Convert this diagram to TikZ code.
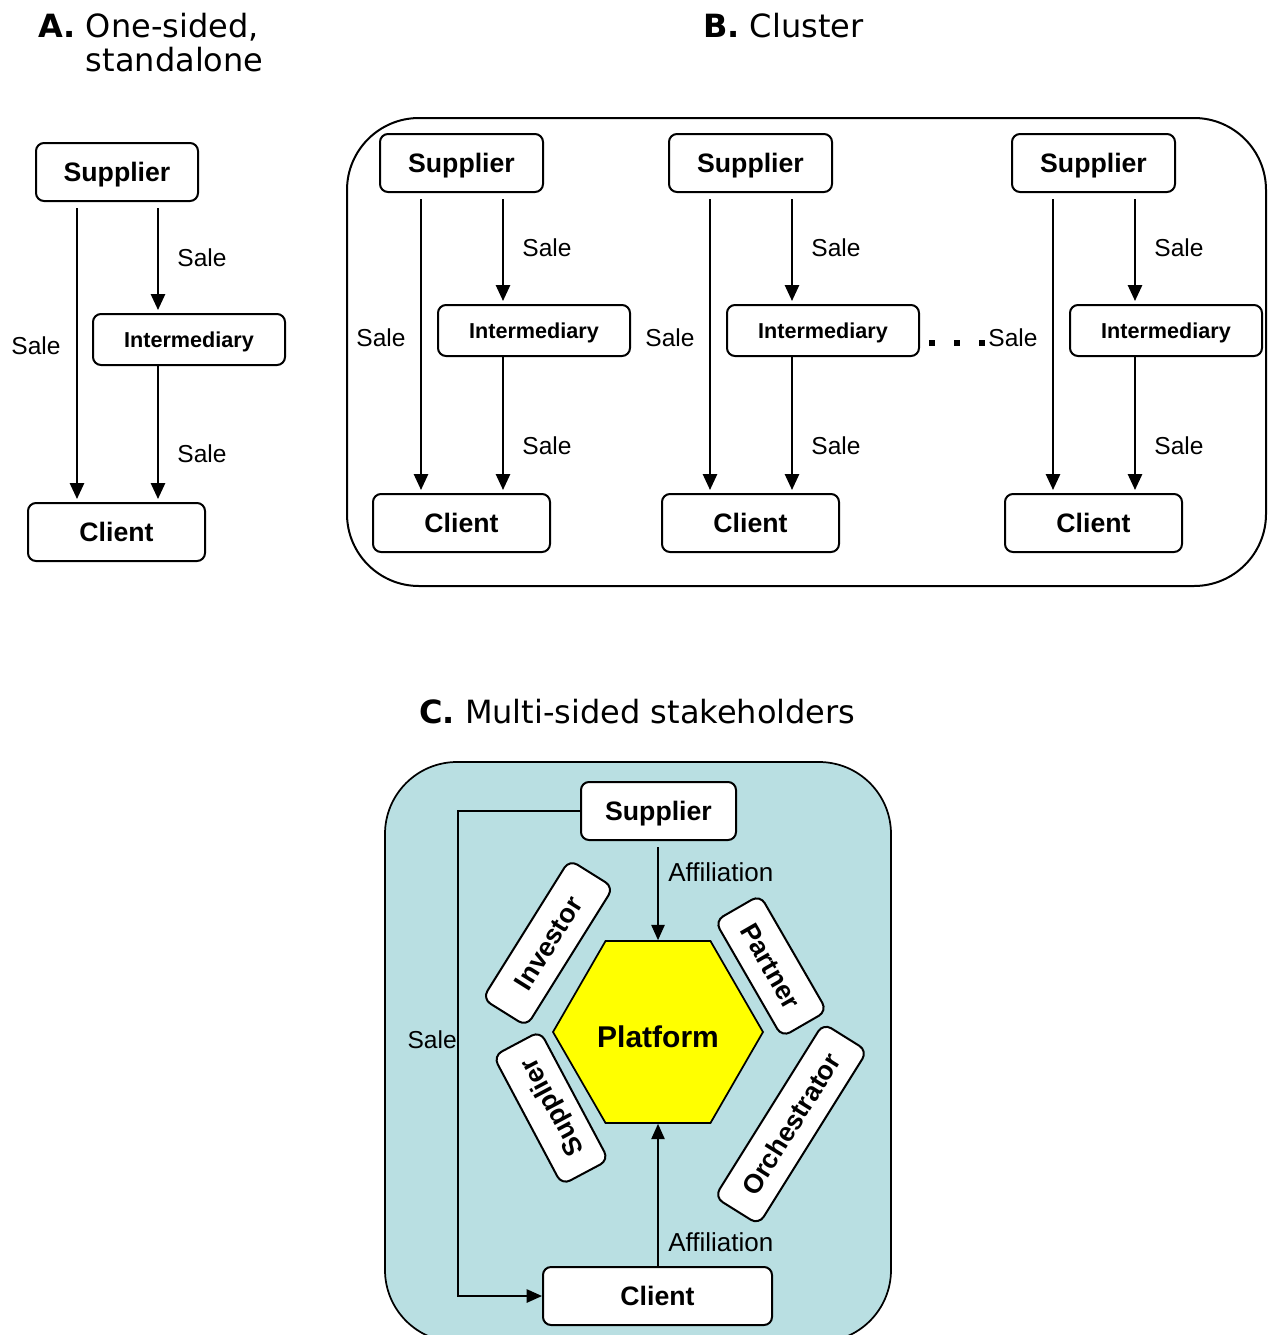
\documentclass[tikz,border=0pt]{standalone}
\usepackage{fontspec}
\setmainfont{Liberation Sans}
\newfontfamily\vfont{DejaVu Sans}
\usetikzlibrary{shapes.geometric,arrows.meta}
\definecolor{cbg}{RGB}{185,223,226}
\definecolor{hexy}{RGB}{255,255,0}
\begin{document}
\begin{tikzpicture}[x=0.75pt,y=-0.75pt,
  box/.style={draw,line width=1.5pt,rounded corners=6pt,fill=white,inner sep=0pt,
    text height=14.3pt,text depth=0pt,
    font=\bfseries\fontsize{20}{24}\selectfont},
  ibox/.style={box,text height=11.6pt,font=\bfseries\fontsize{16.2}{20}\selectfont},
  rbox/.style={box,rounded corners=7pt},
  sz/.style 2 args={minimum width=#1*0.75pt,minimum height=#2*0.75pt},
  lbl/.style={inner sep=0pt,font=\fontsize{18.4}{22}\selectfont},
  aff/.style={inner sep=0pt,anchor=west,font=\fontsize{19.5}{22}\selectfont},
  ttl/.style={inner sep=0pt,anchor=base west,font=\vfont\fontsize{24}{24.75}\selectfont},
  arrAB/.style={line width=2pt,-{Triangle[width=10.5pt,length=12pt]},shorten >=2.2pt},
  gap/.style={shorten <=4.5pt},
  arrC/.style={line width=1.2pt,-{Triangle[width=10pt,length=11.5pt]}}
]
\useasboundingbox (0,0) rectangle (1268,1335);

% ---------- titles ----------
\node[ttl] (tA) at (38,37) {\begin{tabular}[t]{@{}l@{\ }l@{}}\textbf{A.}&One-sided,\\&standalone\end{tabular}};
\node[ttl] (tB) at (703,37) {\textbf{B.} Cluster};
\node[ttl] (tC) at (419,723) {\textbf{C.} Multi-sided stakeholders};

% ---------- A ----------
\node[box,sz={162}{58}] (sA) at (117,172) {Supplier};
\node[ibox,sz={192}{51}] (iA) at (189,339.5) {Intermediary};
\node[box,sz={177}{58}] (cA) at (116.5,532) {Client};
\coordinate (xA1) at (77,0);
\coordinate (xA2) at (158,0);
\draw[arrAB,gap] (sA.south -| xA1) -- (cA.north -| xA1);
\draw[arrAB,gap] (sA.south -| xA2) -- (iA.north -| xA2);
\draw[arrAB] (iA.south -| xA2) -- (cA.north -| xA2);
\node[lbl] (lA1) at (202,258) {Sale};
\node[lbl] (lA2) at (36,346) {Sale};
\node[lbl] (lA3) at (202,454) {Sale};

% ---------- B ----------
\draw[line width=1.5pt,rounded corners=54pt] (347,118) rectangle (1266,586);
\foreach \dx/\g in {0/1,289/2,632/3}{
  \node[box,sz={163}{58}] (sB\g) at (461.5+\dx,163) {Supplier};
  \node[ibox,sz={192}{51}] (iB\g) at (534+\dx,330.5) {Intermediary};
  \node[box,sz={177}{58}] (cB\g) at (461.5+\dx,523) {Client};
  \coordinate (xB\g a) at (421+\dx,0);
  \coordinate (xB\g b) at (503+\dx,0);
  \draw[arrAB,gap] (sB\g.south -| xB\g a) -- (cB\g.north -| xB\g a);
  \draw[arrAB,gap] (sB\g.south -| xB\g b) -- (iB\g.north -| xB\g b);
  \draw[arrAB] (iB\g.south -| xB\g b) -- (cB\g.north -| xB\g b);
  \node[lbl] (lB\g a) at (547+\dx,248) {Sale};
  \node[lbl] (lB\g b) at (381+\dx,338) {Sale};
  \node[lbl] (lB\g c) at (547+\dx,446) {Sale};
}
\fill (929,340) rectangle (935,346);
\fill (954,340) rectangle (960,346);
\fill (979,340) rectangle (985,346);

% ---------- C ----------
\draw[line width=1.3pt,fill=cbg,rounded corners=54pt] (385,762) rectangle (891,1342);
\node[regular polygon,regular polygon sides=6,draw,line width=1.3pt,fill=hexy,
  minimum size=210*0.75pt,inner sep=0pt,text height=23.6pt,text depth=0pt,
  font=\bfseries\fontsize{22.5}{26}\selectfont] (plat) at (658,1032) {Platform};
\node[box,sz={155}{58}] (sC) at (658.5,811) {Supplier};
\node[box,sz={229}{58}] (cC) at (657.5,1296) {Client};
\node[rbox,sz={164}{52},rotate=58] (inv) at (548,943) {Investor};
\node[rbox,sz={134}{52},rotate=-60] (par) at (771,966) {Partner};
\node[rbox,sz={205}{52},rotate=58] (orc) at (791,1124) {Orchestrator};
\node[rbox,sz={146}{53},rotate=118] (sup2) at (551,1108) {Supplier};
\draw[arrC,shorten <=4.5pt] (sC.south -| plat.north) -- (plat.north);
\draw[arrC] (cC.north -| plat.south) -- (plat.south);
\coordinate (xS) at (458,0);
\draw[arrC] (sC.west) -- (sC.west -| xS) |- (cC.west);
\node[aff] (af1) at (668,872) {Affiliation};
\node[aff] (af2) at (668,1242) {Affiliation};
\node[lbl,anchor=east] (lC) at (457,1040) {Sale};
\end{tikzpicture}
\end{document}
